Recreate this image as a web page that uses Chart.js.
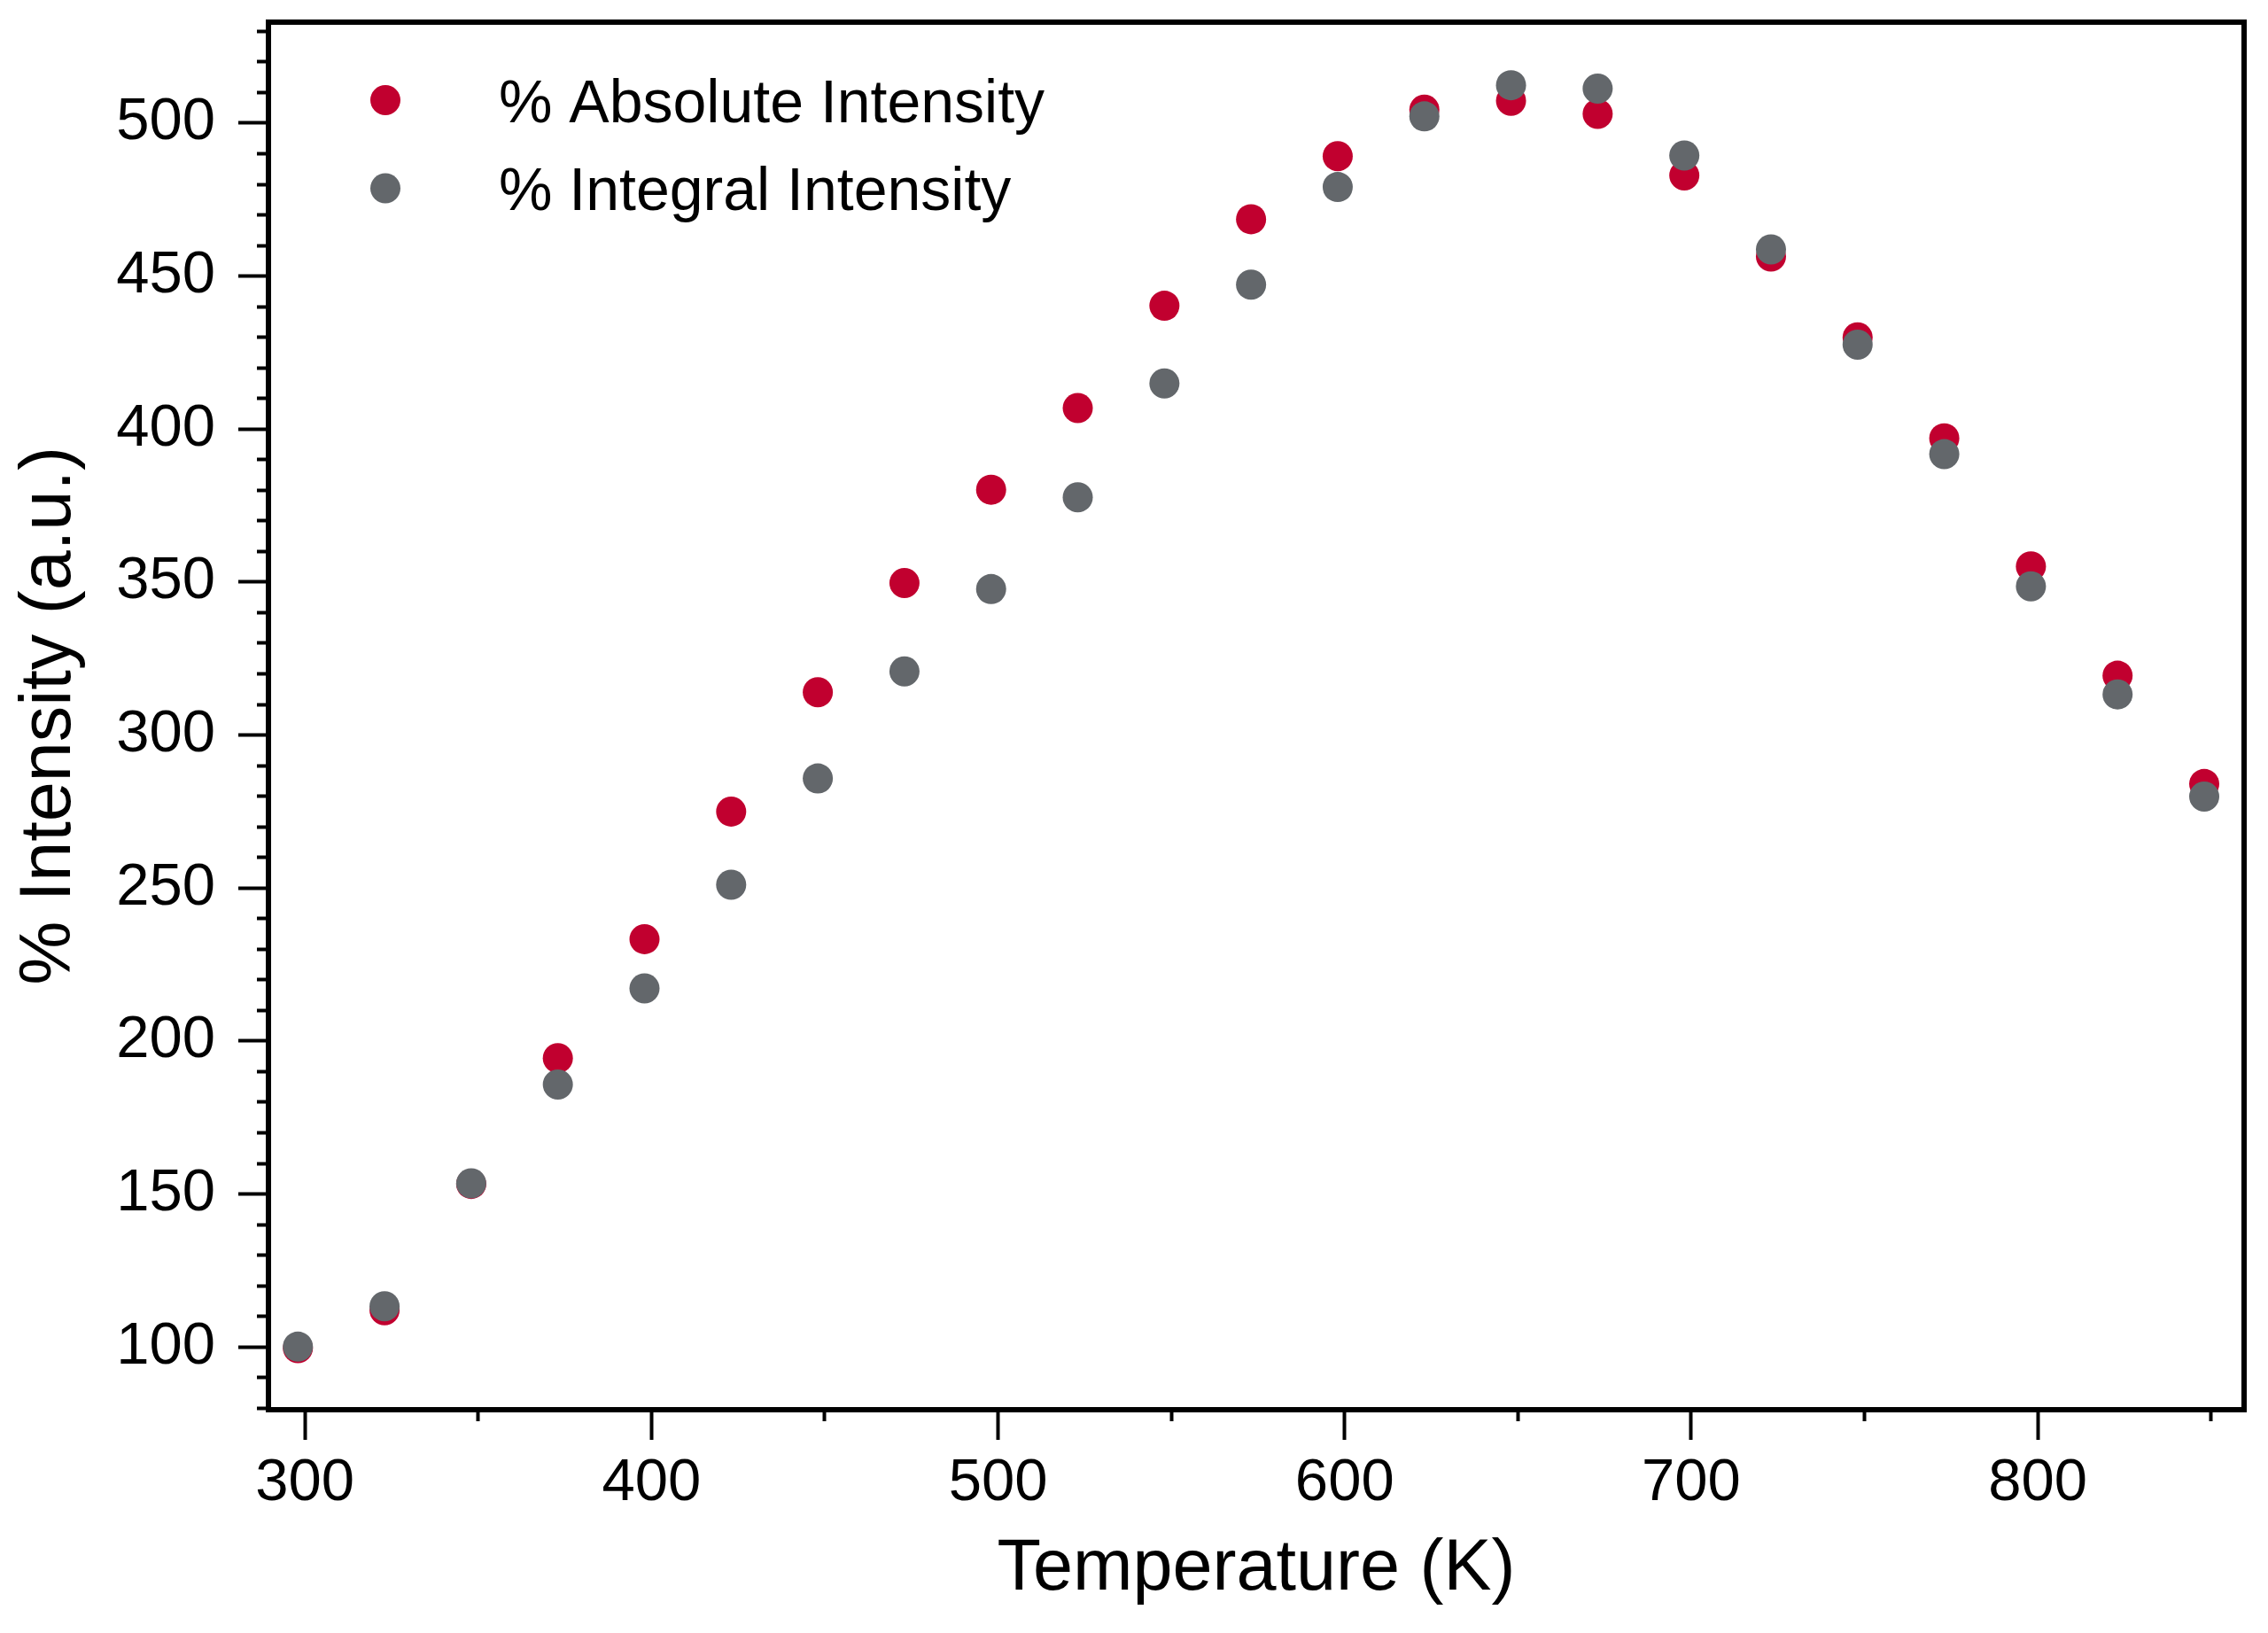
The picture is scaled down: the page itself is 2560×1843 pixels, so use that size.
<!DOCTYPE html>
<html>
<head>
<meta charset="utf-8">
<title>% Intensity vs Temperature</title>
<script src="https://cdn.jsdelivr.net/npm/chart.js@4.4.1/dist/chart.umd.min.js"></script>
<style>
  html, body { margin: 0; padding: 0; background: #fff; }
  #wrap { width: 2560px; height: 1843px; }
</style>
</head>
<body>
<div id="wrap"><canvas id="chart" width="2560" height="1843"></canvas></div>
<script>
// temperatures (K)
const temperature = [298, 323, 348, 373, 398, 423, 448, 473, 498, 523, 548, 573,
  598, 623, 648, 673, 698, 723, 748, 773, 798, 823, 848];

// % absolute intensity (red)
const absoluteIntensity = [99.6, 112.0, 153.3, 194.4, 233.3, 275.0, 314.0, 349.7, 380.2, 406.9, 440.3, 468.6,
  489.2, 504.4, 507.3, 503.0, 482.9, 456.4, 430.0, 397.0, 355.1, 319.4, 284.0];

// % integral intensity (grey)
const integralIntensity = [100.1, 113.3, 153.5, 185.8, 217.2, 251.1, 285.8, 320.8, 347.7, 377.7, 414.9, 447.2,
  479.1, 502.2, 512.4, 511.3, 489.4, 458.7, 427.6, 391.8, 348.6, 313.3, 279.9];

// axis ticks
const xMajorTicks = [300, 400, 500, 600, 700, 800];
const xMinorTicks = [350, 450, 550, 650, 750, 850];
const yMajorTicks = [100, 150, 200, 250, 300, 350, 400, 450, 500];
const yMinorTicks = [80, 90, 110, 120, 130, 140, 160, 170, 180, 190, 210, 220, 230, 240,
  260, 270, 280, 290, 310, 320, 330, 340, 360, 370, 380, 390, 410, 420, 430, 440,
  460, 470, 480, 490, 510, 520, 530];

const xRange = [289.5, 859.5];
const yRange = [79.5, 533];

const RED = '#C1002F';
const GREY = '#63676B';

Chart.defaults.font.family = "'Liberation Sans', Arial, Helvetica, sans-serif";
Chart.defaults.color = '#000';

function toPoints(xs, ys) {
  return xs.map((x, i) => ({ x: x, y: ys[i] }));
}

function setTicks(list) {
  return function (scale) {
    scale.ticks = list.map(v => ({ value: v }));
  };
}

// fixed axis size, no extra label padding around the plot
function fixSize(size) {
  return function (scale) {
    if (scale.isHorizontal()) {
      scale.height = size;
    } else {
      scale.width = size;
    }
    scale.paddingTop = 0;
    scale.paddingBottom = 0;
    scale.paddingLeft = 0;
    scale.paddingRight = 0;
  };
}

// legend drawn inside the plot, top left
const legendInPlot = {
  id: 'legendInPlot',
  afterDatasetsDraw(chart) {
    const { ctx, chartArea } = chart;
    ctx.save();
    chart.data.datasets.forEach((ds, i) => {
      const cx = chartArea.left + 132;
      const cy = chartArea.top + 88 + i * 99.5;
      ctx.beginPath();
      ctx.arc(cx, cy, 17, 0, Math.PI * 2);
      ctx.fillStyle = ds.backgroundColor;
      ctx.fill();
      ctx.fillStyle = '#000';
      ctx.font = "68px 'Liberation Sans', Arial, Helvetica, sans-serif";
      ctx.textAlign = 'left';
      ctx.textBaseline = 'alphabetic';
      ctx.fillText(ds.label, chartArea.left + 260, cy + 24.5);
    });
    ctx.restore();
  }
};

const frameAxis = {
  display: true,
  ticks: { display: false },
  grid: { display: false, drawTicks: false, lineWidth: 6 },
  border: { display: true, width: 6, color: '#000' }
};

new Chart(document.getElementById('chart'), {
  type: 'scatter',
  data: {
    datasets: [
      {
        label: '% Absolute Intensity',
        data: toPoints(temperature, absoluteIntensity),
        backgroundColor: RED,
        borderColor: RED,
        borderWidth: 0,
        pointRadius: 17,
        pointHoverRadius: 17,
        order: 1
      },
      {
        label: '% Integral Intensity',
        data: toPoints(temperature, integralIntensity),
        backgroundColor: GREY,
        borderColor: GREY,
        borderWidth: 0,
        pointRadius: 17,
        pointHoverRadius: 17,
        order: 0
      }
    ]
  },
  options: {
    responsive: false,
    devicePixelRatio: 1,
    animation: false,
    layout: { padding: { left: 0, top: 25, right: 27, bottom: 0 } },
    plugins: {
      legend: { display: false },
      tooltip: { enabled: false }
    },
    scales: {
      x: {
        type: 'linear',
        position: 'bottom',
        weight: 1,
        min: xRange[0],
        max: xRange[1],
        bounds: 'data',
        afterBuildTicks: setTicks(xMajorTicks),
        afterFit: fixSize(252),
        ticks: { font: { size: 67 }, color: '#000', padding: 9, maxRotation: 0, autoSkip: false },
        grid: { drawOnChartArea: false, drawTicks: true, tickLength: 34, tickWidth: 4, tickColor: '#000' },
        border: { display: true, width: 6, color: '#000' },
        title: {
          display: true,
          text: 'Temperature (K)',
          color: '#000',
          font: { size: 81 },
          padding: { top: 0, bottom: 23 }
        }
      },
      xMinor: {
        type: 'linear',
        position: 'bottom',
        weight: 0,
        min: xRange[0],
        max: xRange[1],
        bounds: 'data',
        afterBuildTicks: setTicks(xMinorTicks),
        afterFit: fixSize(0),
        ticks: { display: false },
        grid: { drawOnChartArea: false, drawTicks: true, tickLength: 13, tickWidth: 4, tickColor: '#000' },
        border: { display: false }
      },
      xTop: Object.assign({ type: 'linear', position: 'top', min: xRange[0], max: xRange[1],
        afterFit: fixSize(0) }, frameAxis),
      y: {
        type: 'linear',
        position: 'left',
        weight: 1,
        min: yRange[0],
        max: yRange[1],
        bounds: 'data',
        afterBuildTicks: setTicks(yMajorTicks),
        afterFit: fixSize(303),
        ticks: { font: { size: 67 }, color: '#000', padding: 26, autoSkip: false },
        grid: { drawOnChartArea: false, drawTicks: true, tickLength: 34, tickWidth: 4, tickColor: '#000' },
        border: { display: true, width: 6, color: '#000' },
        title: {
          display: true,
          text: '% Intensity (a.u.)',
          color: '#000',
          font: { size: 81 },
          padding: { top: 8, bottom: 0 }
        }
      },
      yMinor: {
        type: 'linear',
        position: 'left',
        weight: 0,
        min: yRange[0],
        max: yRange[1],
        bounds: 'data',
        afterBuildTicks: setTicks(yMinorTicks),
        afterFit: fixSize(0),
        ticks: { display: false },
        grid: { drawOnChartArea: false, drawTicks: true, tickLength: 13, tickWidth: 4, tickColor: '#000' },
        border: { display: false }
      },
      yRight: Object.assign({ type: 'linear', position: 'right', min: yRange[0], max: yRange[1],
        afterFit: fixSize(0) }, frameAxis)
    }
  },
  plugins: [legendInPlot]
});
</script>
</body>
</html>
